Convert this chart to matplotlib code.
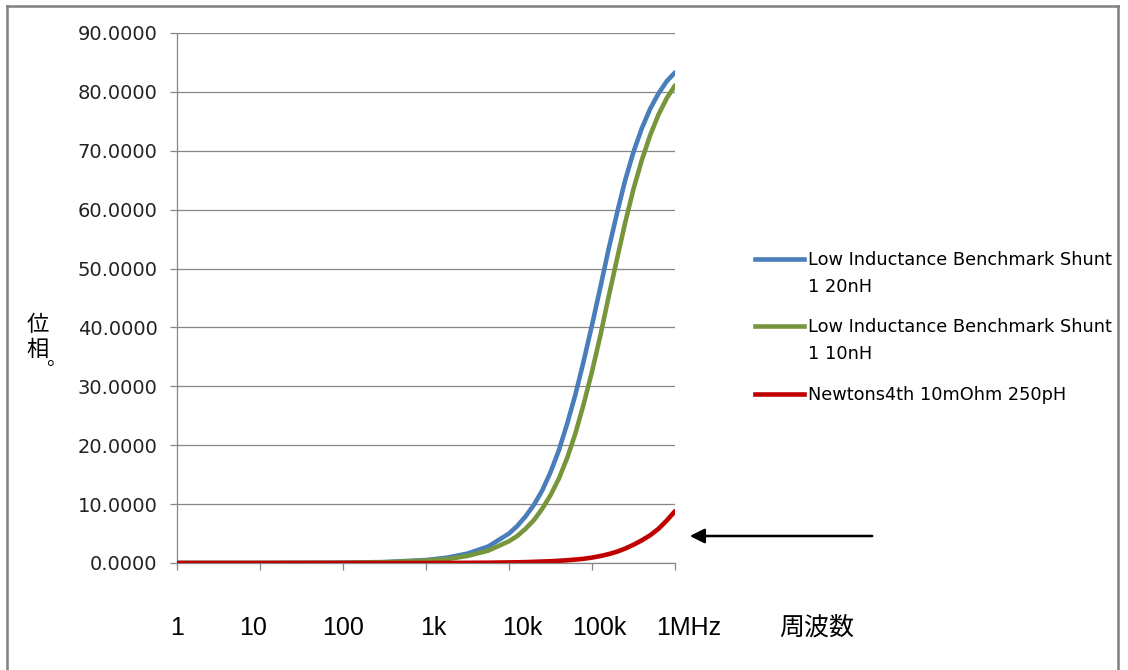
import numpy as np
import matplotlib
matplotlib.use("Agg")
import matplotlib.pyplot as plt
from matplotlib.lines import Line2D
from matplotlib.ticker import FuncFormatter, NullLocator

# frequency points (Hz) and phase (deg)
freq_hz = [1, 10, 100, 316, 1000, 1780, 3160, 5620,
           10000, 12600, 15800, 20000, 25100, 31600, 39800, 50100, 63100, 79400,
           100000, 126000, 158000, 200000, 251000, 316000, 398000, 501000, 631000,
           794000, 1000000]
phase_120nh = [0.0, 0.0, 0.05, 0.16, 0.5, 0.9, 1.6, 2.8,
               5.0, 6.3, 7.9, 9.9, 12.3, 15.4, 19.1, 23.6, 28.6, 34.3,
               40.4, 46.8, 53.2, 59.4, 65.0, 69.8, 73.8, 77.1, 79.7, 81.8, 83.3]
phase_110nh = [0.0, 0.0, 0.04, 0.12, 0.4, 0.65, 1.2, 2.1,
               3.7, 4.6, 5.8, 7.3, 9.2, 11.5, 14.3, 17.8, 22.0, 27.0,
               32.5, 38.6, 45.1, 51.6, 57.8, 63.5, 68.4, 72.6, 76.1, 78.9, 81.1]
phase_n4l = [0.0, 0.0, 0.0, 0.0, 0.0, 0.02, 0.03, 0.05,
             0.1, 0.12, 0.15, 0.2, 0.25, 0.3, 0.38, 0.47, 0.58, 0.72,
             0.92, 1.18, 1.5, 1.92, 2.45, 3.1, 3.85, 4.7, 5.8, 7.2, 8.8]

series_names = ["Low Inductance Benchmark Shunt\n1 20nH",
                "Low Inductance Benchmark Shunt\n1 10nH",
                "Newtons4th 10mOhm 250pH"]
series_colors = ["#4a7ebb", "#77963c", "#c00000"]
x_tick_vals = [1, 10, 100, 1000, 10000, 100000, 1000000]
x_tick_labels = ["1", "10", "100", "1k", "10k", "100k", "1MHz"]
y_ticks = [0, 10, 20, 30, 40, 50, 60, 70, 80, 90]

W, H = 1128, 670
fig = plt.figure(figsize=(W / 100, H / 100), dpi=100)
ax = fig.add_axes([177 / W, 1 - 563 / H, (675 - 177) / W, (563 - 33) / H])

grid_c = "#868686"
for vals, c in zip([phase_120nh, phase_110nh, phase_n4l], series_colors):
    ax.plot(freq_hz, vals, color=c, lw=3.3, solid_capstyle="round",
            solid_joinstyle="round", zorder=3)

ax.set_xscale("log")
ax.set_xlim(1, 1e6)
ax.set_ylim(0, 90)
ax.set_yticks(y_ticks)
ax.yaxis.set_major_formatter(FuncFormatter(lambda v, p: f"{v:.4f}"))
ax.set_xticks(x_tick_vals)
ax.xaxis.set_minor_locator(NullLocator())
ax.set_xticklabels([])
ax.grid(axis="y", color=grid_c, lw=0.9)
ax.set_axisbelow(True)
for s in ["top", "right"]:
    ax.spines[s].set_visible(False)
for s in ["left", "bottom"]:
    ax.spines[s].set_color(grid_c)
    ax.spines[s].set_linewidth(0.9)
ax.tick_params(axis="both", color=grid_c, length=5, width=0.9)
ax.tick_params(axis="y", labelsize=14, pad=9, labelcolor="#222222")

# category labels under the axis
label_x = [177, 253, 343, 433, 522, 599, 689]
for lx, t in zip(label_x, x_tick_labels):
    fig.text(lx / W, 1 - 628 / H, t, ha="center", va="center",
             fontsize=18, family="Liberation Sans", color="black")
cjk = ["Noto Sans CJK JP", "DejaVu Sans"]
fig.text(817 / W, 1 - 628 / H, "周波数", ha="center", va="center",
         fontsize=18, family=cjk)

# y label, written vertically
fig.text(38 / W, 1 - 325 / H, "位", ha="center", va="center", fontsize=16, family=cjk)
fig.text(38 / W, 1 - 349 / H, "相", ha="center", va="center", fontsize=16, family=cjk)
fig.text(56 / W, 1 - 360 / H, "。", ha="center", va="center", fontsize=14, family=cjk)

# legend drawn by hand so the swatch sits on the first text line
leg_y = [259, 326, 394]
for y, name, c in zip(leg_y, series_names, series_colors):
    fig.add_artist(Line2D([755 / W, 804 / W], [1 - y / H, 1 - y / H],
                          color=c, lw=3.3, transform=fig.transFigure))
    fig.text(808 / W, 1 - (y - 8) / H, name, ha="left", va="top",
             fontsize=12.8, linespacing=1.62, color="black")

# arrow pointing at the red curve
ax.annotate("", xy=(687 / W, 1 - 536 / H), xytext=(875 / W, 1 - 536 / H),
            xycoords="figure fraction", textcoords="figure fraction",
            arrowprops=dict(arrowstyle="-|>", color="black", lw=1.8, mutation_scale=22))

# outer frame
for xs, ys in [([7, 7], [6, H]), ([7, 1118], [6, 6]), ([1118, 1118], [6, H])]:
    fig.add_artist(Line2D([x / W for x in xs], [1 - y / H for y in ys],
                          color="#7f7f7f", lw=1.8, transform=fig.transFigure))

fig.savefig("out.png", dpi=100)
